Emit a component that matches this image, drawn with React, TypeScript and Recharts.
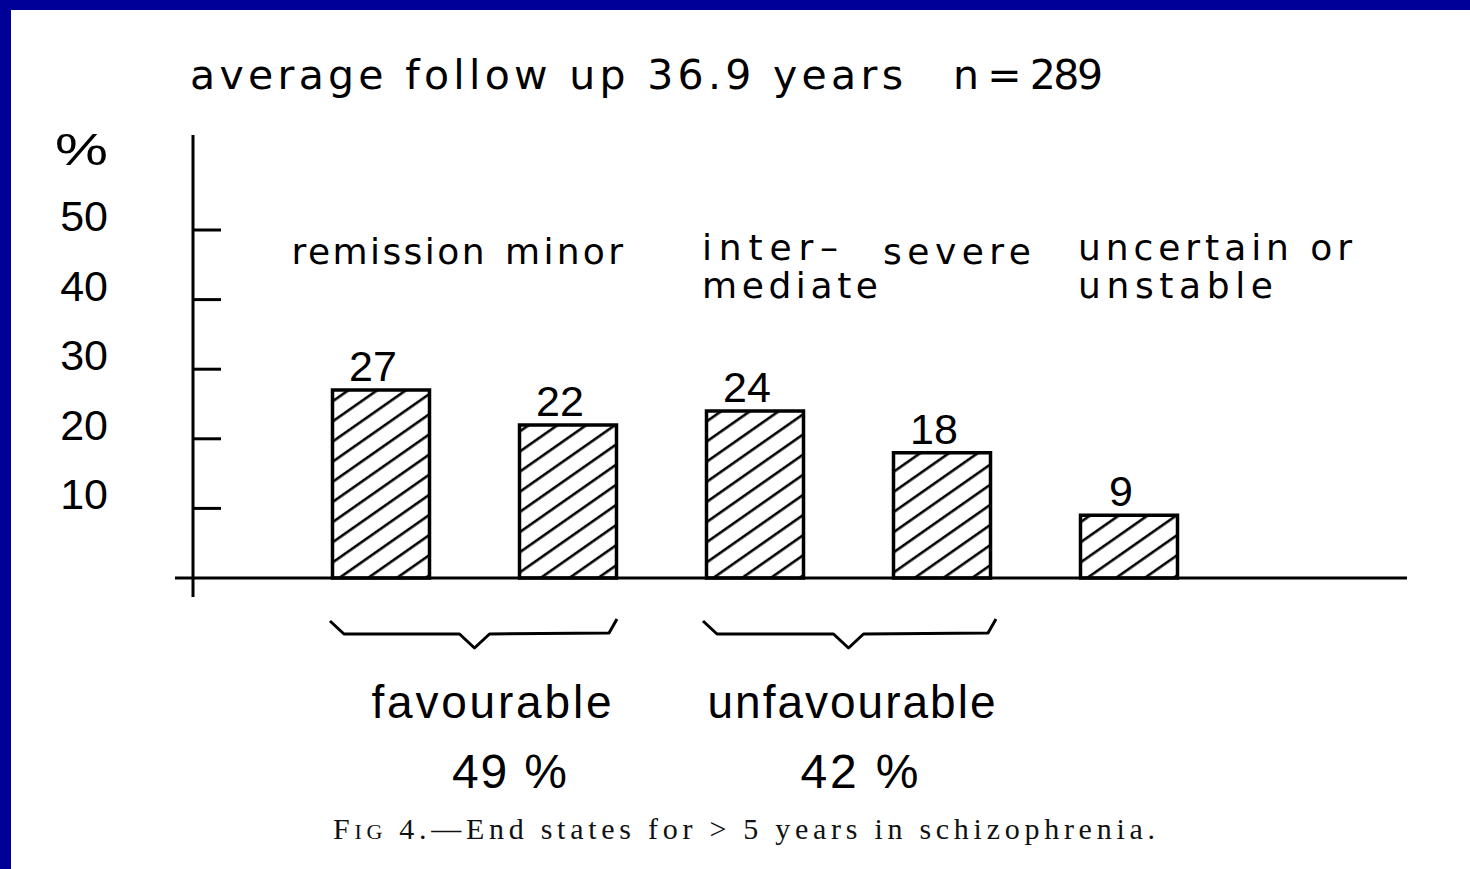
import React from "react";
import { BarChart, Bar, XAxis, YAxis, LabelList } from "recharts";

// ---- data ----
const categories = ["remission", "minor", "intermediate", "severe", "uncertain or unstable"];
const categoryLines = [["remission"], ["minor"], ["inter–", "mediate"], ["severe"], ["uncertain or", "unstable"]];
const values = [27, 22, 24, 18, 9];
const yTicks = [0, 10, 20, 30, 40, 50];
const groupNames = ["favourable", "unfavourable"];
const groupTotals = ["49 %", "42 %"];
const groupFirstIndex = [0, 2];
const titleMain = "average follow up 36.9 years";
const titleN = "n = 289";
const yUnit = "%";
const captionParts = ["F", "IG", " 4.—End states for  > 5 years in schizophrenia."];

const data = categories.map((c, i) => ({ category: c, value: values[i] }));

// ---- layout / style (not data) ----
const BLUE = "#000099";
const INK = "#000";
const labelLayout = [
  { anchor: "middle", dx: 7, widths: [193] },
  { anchor: "middle", dx: -4, widths: [118] },
  { anchor: "start", dx: -53, widths: [136, 176] },
  { anchor: "middle", dx: 15, widths: [148] },
  { anchor: "start", dx: -51, widths: [274, 195] },
];
const groupLayout = [
  { nameDx: 17, nameW: 240, totalDx: 35, totalW: 115, left: 51, right: 49 },
  { nameDx: 3, nameW: 288, totalDx: 11, totalW: 118, left: 52, right: 54 },
];

const XTick = (props: any) => {
  const { x, y, payload, index } = props;
  const i = payload && typeof payload.index === "number" ? payload.index : index;
  const half = payload && payload.offset ? payload.offset : 93.5;
  const lay = labelLayout[i];
  const lines = categoryLines[i] || [];
  const g = groupFirstIndex.indexOf(i);
  return (
    <g>
      {lines.map((ln, k) => (
        <text
          key={"l" + k}
          x={x + lay.dx}
          y={(lines.length > 1 ? y - 318 : y - 314) + k * 38}
          textAnchor={lay.anchor}
          textLength={lay.widths[k]}
          lengthAdjust="spacing"
          fontFamily="DejaVu Sans"
          fontSize={36}
          fill={INK}
        >
          {ln}
        </text>
      ))}
      {g >= 0 && (
        <g>
          <path
            d={`M ${x - groupLayout[g].left} ${y + 43} L ${x - groupLayout[g].left + 14} ${y + 56} L ${x + half - 15} ${y + 56} L ${x + half} ${y + 70} L ${x + half + 15} ${y + 56} L ${x + 2 * half + groupLayout[g].right - 8} ${y + 55} L ${x + 2 * half + groupLayout[g].right} ${y + 41}`}
            fill="none"
            stroke={INK}
            strokeWidth={3}
            strokeLinejoin="round"
          />
          <text
            x={x + half + groupLayout[g].nameDx}
            y={y + 140}
            textAnchor="middle"
            textLength={groupLayout[g].nameW}
            lengthAdjust="spacing"
            fontFamily="Liberation Sans"
            fontSize={46}
            fill={INK}
          >
            {groupNames[g]}
          </text>
          <text
            x={x + half + groupLayout[g].totalDx}
            y={y + 210}
            textAnchor="middle"
            textLength={groupLayout[g].totalW}
            lengthAdjust="spacing"
            fontFamily="Liberation Sans"
            fontSize={48}
            fill={INK}
          >
            {groupTotals[g]}
          </text>
        </g>
      )}
    </g>
  );
};

const YTick = (props: any) => {
  const { x, y, payload } = props;
  const v = payload.value;
  if (v === 0) {
    return (
      <g>
        <line x1={x - 18} y1={y} x2={x} y2={y} stroke={INK} strokeWidth={3} />
        <line x1={x} y1={y} x2={x} y2={y + 19} stroke={INK} strokeWidth={3} />
      </g>
    );
  }
  return (
    <g>
      <line x1={x} y1={y} x2={x + 28} y2={y} stroke={INK} strokeWidth={3} />
      <text x={x - 85} y={y + 1} textAnchor="end" fontFamily="Liberation Sans" fontSize={43} fill={INK}>
        {v}
      </text>
    </g>
  );
};

const TitleLabel = () => (
  <g>
    <text x={190} y={89} textLength={713} lengthAdjust="spacing" fontFamily="DejaVu Sans" fontSize={41} fill={INK}>
      {titleMain}
    </text>
    <text x={953} y={89} textLength={150} lengthAdjust="spacing" fontFamily="DejaVu Sans" fontSize={41} fill={INK}>
      {titleN}
    </text>
    <text x={55} y={165} textLength={53} lengthAdjust="spacingAndGlyphs" fontFamily="Liberation Sans" fontSize={44} fill={INK}>
      {yUnit}
    </text>
  </g>
);

const CaptionLabel = () => (
  <text x={333} y={839} textLength={822} lengthAdjust="spacing" fontFamily="Liberation Serif" fontSize={30} fill="#111">
    {captionParts[0]}
    <tspan fontSize={22}>{captionParts[1]}</tspan>
    {captionParts[2]}
  </text>
);

const ValueLabel = (p: any) => (
  <text x={p.x + p.width / 2 - 8} y={p.y - 9} textAnchor="middle" fontFamily="Liberation Sans" fontSize={43} fill={INK}>
    {p.value}
  </text>
);

export default function App() {
  return (
    <div style={{ position: "absolute", left: 0, top: 0, width: 1470, height: 869, background: "#fff", overflow: "hidden" }}>
      <svg width={0} height={0} style={{ position: "absolute" }}>
        <defs>
          <pattern id="hatch" patternUnits="userSpaceOnUse" width={12} height={16.5} patternTransform="rotate(-35)">
            <rect x={0} y={0} width={12} height={16.5} fill="#fff" />
            <line x1={0} y1={8} x2={12} y2={8} stroke={INK} strokeWidth={2.6} />
          </pattern>
        </defs>
      </svg>
      <div style={{ position: "absolute", left: 0, top: 0 }}>
        <BarChart width={1470} height={869} data={data} margin={{ top: 135, right: 63, bottom: 0, left: 0 }}>
          <XAxis
            dataKey="category"
            interval={0}
            tickSize={0}
            tickMargin={0}
            height={291}
            padding={{ left: 94.5, right: 184.5 }}
            axisLine={{ stroke: INK, strokeWidth: 3 }}
            tickLine={false}
            tick={<XTick />}
            label={<CaptionLabel />}
          />
          <YAxis
            type="number"
            domain={[0, 63.65]}
            ticks={yTicks}
            width={193}
            tickSize={0}
            tickMargin={0}
            axisLine={{ stroke: INK, strokeWidth: 3 }}
            tickLine={false}
            tick={<YTick />}
            label={<TitleLabel />}
          />
          <Bar dataKey="value" fill="url(#hatch)" stroke={INK} strokeWidth={3.5} barSize={97} isAnimationActive={false}>
            <LabelList dataKey="value" content={<ValueLabel />} />
          </Bar>
        </BarChart>
      </div>
      <div style={{ position: "absolute", left: 0, top: 0, width: 1470, height: 10, background: BLUE }} />
      <div style={{ position: "absolute", left: 0, top: 0, width: 11, height: 869, background: BLUE }} />
    </div>
  );
}
